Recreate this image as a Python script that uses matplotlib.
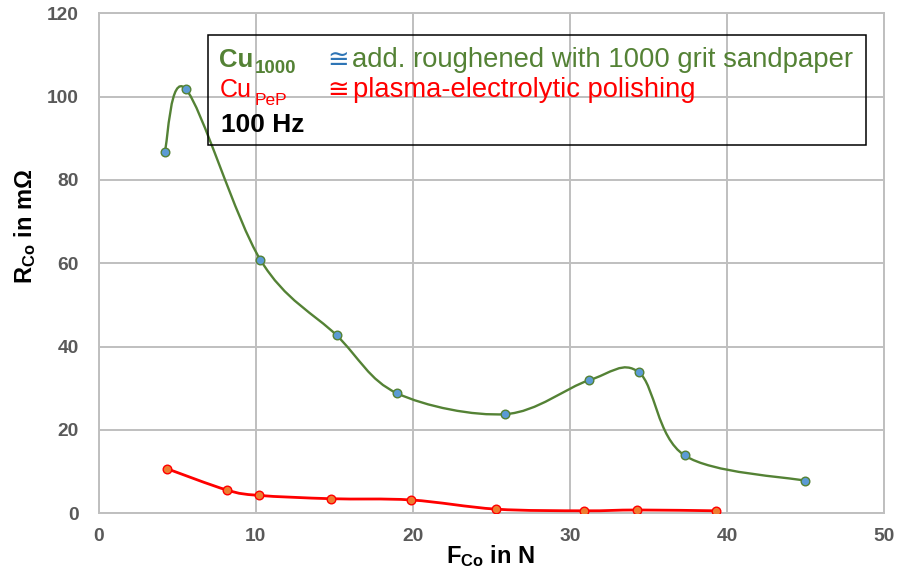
import numpy as np
import matplotlib
matplotlib.use('Agg')
import matplotlib.pyplot as plt
from matplotlib.path import Path
from matplotlib.patches import PathPatch, Rectangle

plt.rcParams['font.family'] = ['Liberation Sans', 'DejaVu Sans']
plt.rcParams['mathtext.fontset'] = 'custom'
plt.rcParams['mathtext.rm'] = 'Liberation Sans'
plt.rcParams['mathtext.it'] = 'Liberation Sans:italic'
plt.rcParams['mathtext.bf'] = 'Liberation Sans:bold'

# contact force in N / contact resistance in mOhm
force_cu1000 = [4.2, 5.55, 10.3, 15.15, 19.0, 25.9, 31.2, 34.4, 37.3, 45.0]
r_cu1000 = [86.7, 101.8, 60.8, 42.7, 28.8, 23.8, 31.9, 33.8, 13.9, 7.8]
force_cupep = [4.35, 8.15, 10.2, 14.8, 19.9, 25.3, 30.9, 34.3, 39.3]
r_cupep = [10.7, 5.6, 4.3, 3.5, 3.2, 1.0, 0.6, 0.8, 0.6]

x_ticks = [0, 10, 20, 30, 40, 50]
y_ticks = [0, 20, 40, 60, 80, 100, 120]

W, H = 898, 569
GREEN = '#548235'
BLUE = '#5B9BD5'
RED = '#FF0000'
ORANGE = '#ED7D31'
GRID = '#BFBFBF'


def fx(px):
    return px / W


def fy(py):
    return 1 - py / H


def smooth_path(xs, ys):
    # excel style smoothed line: bezier segments, catmull-rom control points
    p = np.column_stack([xs, ys])
    n = len(p)
    verts = [p[0]]
    codes = [Path.MOVETO]
    for i in range(n - 1):
        p0 = p[max(i - 1, 0)]
        p1 = p[i]
        p2 = p[i + 1]
        p3 = p[min(i + 2, n - 1)]
        c1 = p1 + (p2 - p0) / 6
        c2 = p2 - (p3 - p1) / 6
        verts += [c1, c2, p2]
        codes += [Path.CURVE4] * 3
    return Path(verts, codes)


fig = plt.figure(figsize=(W / 100, H / 100), dpi=100)
ax = fig.add_axes([fx(98.7), fy(513.3), (884 - 98.7) / W, (513.3 - 13.3) / H])

ax.add_patch(PathPatch(smooth_path(force_cu1000, r_cu1000), fill=False,
                       edgecolor=GREEN, lw=1.7, zorder=3))
ax.plot(force_cu1000, r_cu1000, ls='none', marker='o', ms=6.2,
        mfc=BLUE, mec=GREEN, mew=1.0, zorder=4)
ax.add_patch(PathPatch(smooth_path(force_cupep, r_cupep), fill=False,
                       edgecolor=RED, lw=2.0, zorder=3))
ax.plot(force_cupep, r_cupep, ls='none', marker='o', ms=6.2,
        mfc=ORANGE, mec=RED, mew=1.0, zorder=4)

ax.set_xlim(0, 50)
ax.set_ylim(0, 120)
ax.set_xticks(x_ticks)
ax.set_yticks(y_ticks)
ax.set_xticklabels([str(v) for v in x_ticks], fontweight='bold')
ax.set_yticklabels([str(v) for v in y_ticks], fontweight='bold')
ax.tick_params(axis='both', length=0, labelsize=13.8, labelcolor='#595959')
ax.tick_params(axis='x', pad=10.5)
ax.tick_params(axis='y', pad=14.5)
ax.grid(True, color=GRID, lw=1.4)
ax.set_axisbelow(True)
for s in ax.spines.values():
    s.set_color(GRID)
    s.set_linewidth(1.4)

fig.text(fx(490), fy(563.3), r'$\mathbf{F_{Co}}$ in N', fontsize=17,
         fontweight='bold', ha='center', va='baseline')
fig.text(fx(31.7), fy(226.7), r'$\mathbf{R_{Co}}$ in m$\mathbf{\Omega}$', fontsize=17,
         fontweight='bold', ha='center', va='baseline', rotation=90,
         rotation_mode='anchor')

# annotation box
fig.patches.append(Rectangle((fx(208), fy(145)), (866 - 208) / W, (145 - 34.7) / H,
                             transform=fig.transFigure, fill=False,
                             edgecolor='black', lw=1.1, zorder=5))
fig.text(fx(219.3), fy(66.7), 'Cu', color=GREEN, fontsize=18.5,
         fontweight='bold', va='baseline')
fig.text(fx(255), fy(72.7), '1000', color=GREEN, fontsize=13.5,
         fontweight='bold', va='baseline')
fig.text(fx(327), fy(66.7), '\u2245', color='#2E75B6', fontsize=18.5,
         family='DejaVu Sans', va='baseline')
fig.text(fx(351.7), fy(66.7), 'add. roughened with 1000 grit sandpaper',
         color=GREEN, fontsize=19.8, va='baseline')
fig.text(fx(219.3), fy(96.7), 'Cu', color=RED, fontsize=18, va='baseline')
fig.text(fx(255), fy(105), 'PeP', color=RED, fontsize=12.5, va='baseline')
fig.text(fx(327), fy(96.7), '\u2245', color=RED, fontsize=18.5,
         family='DejaVu Sans', va='baseline')
fig.text(fx(353), fy(96.7), 'plasma-electrolytic polishing', color=RED,
         fontsize=19.7, va='baseline')
fig.text(fx(220.7), fy(131.7), '100 Hz', color='black', fontsize=19,
         fontweight='bold', va='baseline')

fig.savefig('out.png', dpi=100)
